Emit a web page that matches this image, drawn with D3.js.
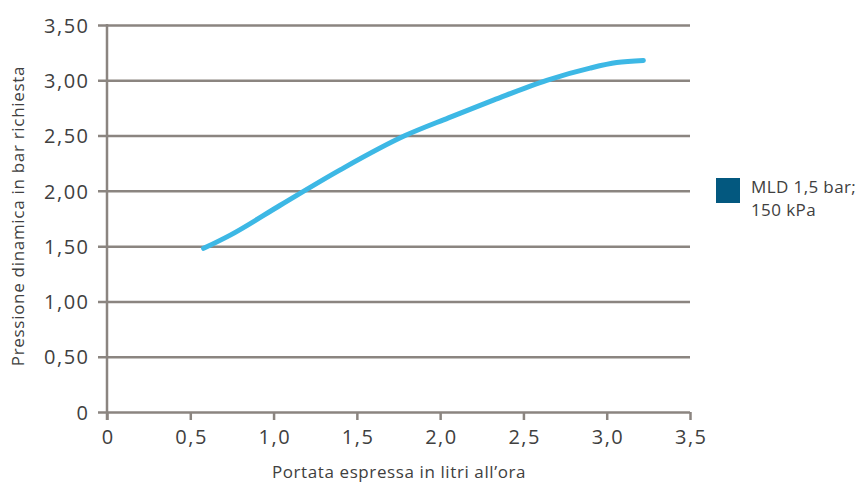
<!DOCTYPE html>
<html>
<head>
<meta charset="utf-8">
<script src="https://cdn.jsdelivr.net/npm/d3@7"></script>
<style>
  body { margin: 0; background: #fff; }
  svg text { font-family: "Open Sans", "DejaVu Sans", sans-serif; font-weight: 400; fill: #404040; }
</style>
</head>
<body>
<div class="chart"></div>
<script>
// flow (litri all'ora) vs required dynamic pressure (bar)
var portata   = [0.58, 0.74, 1.04, 1.40, 1.79, 2.05, 2.32, 2.64, 2.90, 3.06, 3.22];
var pressione = [1.48, 1.60, 1.87, 2.19, 2.50, 2.66, 2.82, 3.00, 3.11, 3.16, 3.18];
var xTicks = [0, 0.5, 1.0, 1.5, 2.0, 2.5, 3.0, 3.5];
var yTicks = [0, 0.5, 1.0, 1.5, 2.0, 2.5, 3.0, 3.5];
var serieName = ["MLD 1,5 bar;", "150 kPa"];

var width = 862, height = 485;
var margin = {left: 107, top: 25, right: 172, bottom: 73};
var w = width - margin.left - margin.right,
    h = height - margin.top - margin.bottom;

var gridColor = "#8b8580";

var svg = d3.select(".chart").append("svg")
    .attr("width", width)
    .attr("height", height);

var g = svg.append("g")
    .attr("transform", "translate(" + margin.left + "," + margin.top + ")");

var x = d3.scaleLinear().domain([0, 3.5]).range([0, w]);
var y = d3.scaleLinear().domain([0, 3.5]).range([h, 0]);

var fmtX = function(d) { return d === 0 ? "0" : d3.format(".1f")(d).replace(".", ","); };
var fmtY = function(d) { return d === 0 ? "0" : d3.format(".2f")(d).replace(".", ","); };

// horizontal gridlines, reaching a bit left of the y axis
g.append("g")
    .attr("class", "grid")
    .attr("transform", "translate(" + w + ",0)")
    .call(d3.axisLeft(y).tickValues(yTicks).tickSize(w + 9).tickFormat(""))
    .call(function(s) {
      s.select(".domain").remove();
      s.selectAll("line").attr("stroke", gridColor).attr("stroke-width", 2.5);
    });

g.append("g")
    .attr("class", "y axis")
    .call(d3.axisLeft(y).tickValues(yTicks).tickSize(0).tickPadding(17.5).tickFormat(fmtY))
    .call(function(s) {
      s.select(".domain").remove();
      s.selectAll("text")
        .style("font-size", "20px")
        .style("letter-spacing", "1.5px")
        .attr("dy", "0.36em");
    });

// x axis
g.append("g")
    .attr("class", "x axis")
    .attr("transform", "translate(0," + h + ")")
    .call(d3.axisBottom(x).tickValues(xTicks).tickSize(8).tickPadding(10).tickFormat(fmtX))
    .call(function(s) {
      s.select(".domain").remove();
      s.selectAll("line").attr("stroke", gridColor).attr("stroke-width", 2.5);
      s.selectAll("text")
        .style("font-size", "20px")
        .style("letter-spacing", "1.5px")
        .attr("dx", "0.75px");
    });

// vertical axis line
g.append("line")
    .attr("x1", x(0)).attr("x2", x(0))
    .attr("y1", y(3.5) - 1).attr("y2", h + 8)
    .attr("stroke", gridColor)
    .attr("stroke-width", 2.5);

// axis titles
svg.append("text")
    .attr("x", 399)
    .attr("y", 478)
    .style("text-anchor", "middle")
    .style("font-size", "17px")
    .style("letter-spacing", "0.6px")
    .text("Portata espressa in litri all\u2019ora");

svg.append("text")
    .attr("transform", "translate(24,216) rotate(-90)")
    .style("text-anchor", "middle")
    .style("font-size", "17px")
    .style("letter-spacing", "0.7px")
    .text("Pressione dinamica in bar richiesta");

// curve
var pts = portata.map(function(d, i) { return [d, pressione[i]]; });
var line = d3.line()
    .x(function(d) { return x(d[0]); })
    .y(function(d) { return y(d[1]); })
    .curve(d3.curveMonotoneX);

g.append("path")
    .datum(pts)
    .attr("d", line)
    .attr("fill", "none")
    .attr("stroke", "#3db8e5")
    .attr("stroke-width", 5)
    .attr("stroke-linecap", "round");

// legend
var lg = svg.append("g").attr("transform", "translate(716,178)");
lg.append("rect")
    .attr("width", 24).attr("height", 25)
    .attr("fill", "#03587f");
lg.selectAll("text").data(serieName).enter()
  .append("text")
    .attr("x", 35)
    .attr("y", function(d, i) { return 15 + i * 23; })
    .style("font-size", "17px")
    .style("letter-spacing", "0.4px")
    .text(function(d) { return d; });
</script>
</body>
</html>
